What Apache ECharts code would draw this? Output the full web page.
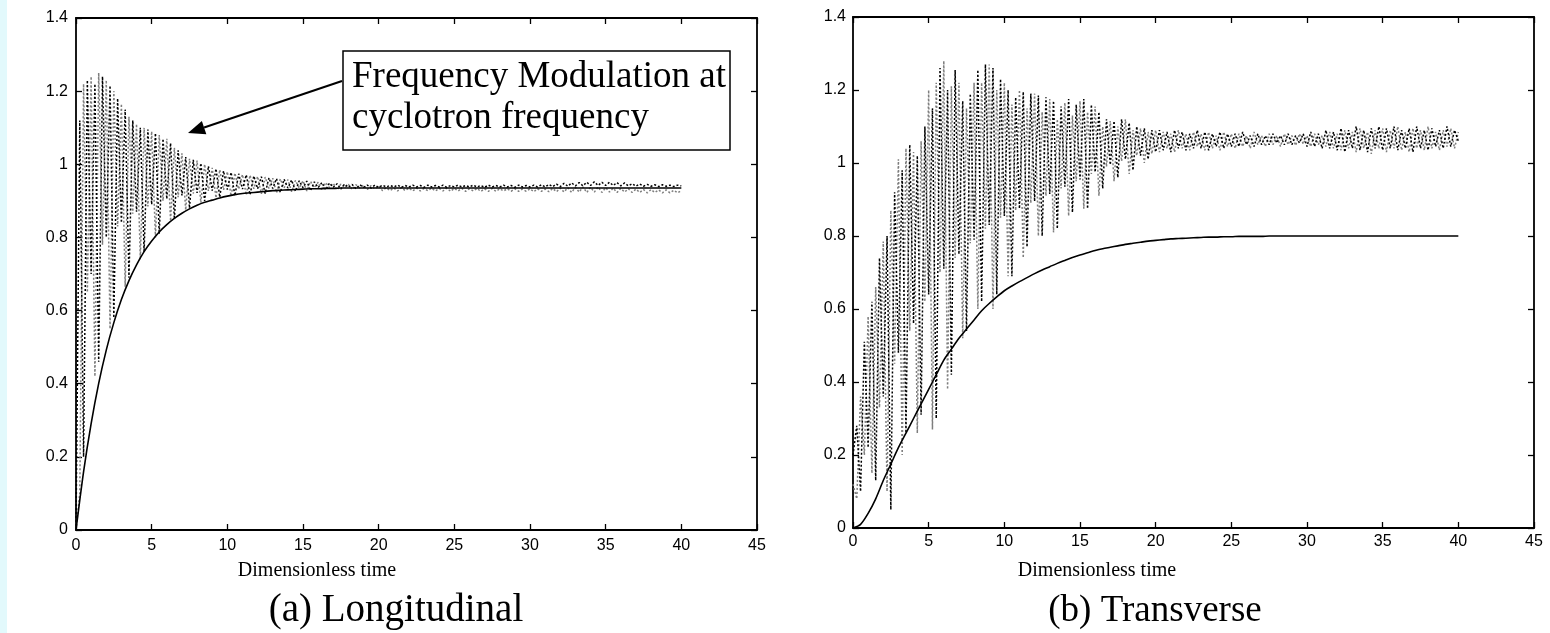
<!DOCTYPE html>
<html>
<head>
<meta charset="utf-8">
<script src="https://cdn.jsdelivr.net/npm/echarts/dist/echarts.min.js"></script>
<style>
html,body{margin:0;padding:0;background:#fff;}
#c{position:absolute;left:0;top:0;width:1550px;height:633px;}
#strip{position:absolute;left:0;top:0;width:7px;height:633px;background:#e2f9fc;}
</style>
</head>
<body>
<div id="c"></div>
<div id="strip"></div>
<script>
// ---- data ----
// sample instants (dimensionless time) of the oscillating runs, 0 .. 40
const TIME = [0,0.25,0.5,0.75,1,1.25,1.5,1.75,2,2.25,2.5,2.75,3,3.25,3.5,3.75,4,4.25,4.5,4.75,5,5.25,5.5,5.75,6,6.25,6.5,6.75,7,7.25,7.5,7.75,8,8.25,8.5,8.75,9,9.25,9.5,9.75,10,
  10.25,10.5,10.75,11,11.25,11.5,11.75,12,12.25,12.5,12.75,13,13.25,13.5,13.75,14,14.25,14.5,14.75,15,15.25,15.5,15.75,16,16.25,16.5,16.75,17,17.25,17.5,17.75,18,18.25,18.5,18.75,19,19.25,19.5,19.75,20,
  20.25,20.5,20.75,21,21.25,21.5,21.75,22,22.25,22.5,22.75,23,23.25,23.5,23.75,24,24.25,24.5,24.75,25,
  25.25,25.5,25.75,26,26.25,26.5,26.75,27,27.25,27.5,27.75,28,28.25,28.5,28.75,29,29.25,29.5,29.75,30,
  30.25,30.5,30.75,31,31.25,31.5,31.75,32,32.25,32.5,32.75,33,33.25,33.5,33.75,34,34.25,34.5,34.75,35,
  35.25,35.5,35.75,36,36.25,36.5,36.75,37,37.25,37.5,37.75,38,38.25,38.5,38.75,39,39.25,39.5,39.75,40];

// sample instants of the smooth (solid) curves
const CURVE_TIME = [0,0.5,1,1.5,2,2.5,3,3.5,4,4.5,5,5.5,6,6.5,7,7.5,8,8.5,9,9.5,10,10.5,11,11.5,12,12.5,13,13.5,14,14.5,15,15.5,16,16.5,17,17.5,18,18.5,19,19.5,20,
  20.5,21,21.5,22,22.5,23,23.5,24,24.5,25,25.5,26,26.5,27,27.5,28,28.5,29,29.5,30,30.5,31,31.5,32,32.5,33,33.5,34,34.5,35,35.5,36,36.5,37,37.5,38,38.5,39,39.5,40];

const X_TICKS = [0,5,10,15,20,25,30,35,40,45];
const Y_TICKS = [0,0.2,0.4,0.6,0.8,1,1.2,1.4];

// (a) Longitudinal
const LONG_SOLID = [0,0.159,0.291,0.401,0.492,0.567,0.630,0.682,0.725,0.761,0.790,0.815,0.835,0.852,0.866,0.878,0.888,0.896,0.902,0.908,0.913,0.917,0.920,0.922,0.924,0.926,0.928,0.929,0.930,0.931,0.932,0.933,0.933,0.934,0.934,0.935,0.935,0.935,0.935,0.935,0.935,
  0.935,0.935,0.935,0.935,0.935,0.935,0.935,0.935,0.935,0.935,0.935,0.935,0.935,0.935,0.935,0.935,0.935,0.935,0.935,0.935,0.935,0.935,0.935,0.935,0.935,0.935,0.935,0.935,0.935,0.935,0.935,0.935,0.935,0.935,0.935,0.935,0.935,0.935,0.935,0.935];
const LONG_BLACK = [0,1.12,0.20,1.23,0.70,1.22,0.46,1.24,0.80,1.215,
  0.58,1.18,0.84,1.15,0.69,1.12,0.87,1.10,0.76,1.095,
  0.89,1.085,0.81,1.07,0.905,1.058,0.85,1.038,0.915,1.02,
  0.88,1.012,0.922,1.003,0.90,0.995,0.928,0.988,0.91,0.982,
  0.931,
  0.978,0.914,0.974,0.932,0.971,0.917,0.968,0.933,0.966,0.92,
  0.963,0.934,0.961,0.923,0.959,0.935,0.957,0.926,0.955,0.936,
  0.954,0.928,0.952,0.936,0.95,0.93,0.949,0.937,0.947,0.932,
  0.946,0.937,0.945,0.933,0.944,0.937,0.943,0.935,0.943,0.937,
  0.943,0.938,0.942,0.938,0.943,0.937,0.942,0.938,0.943,0.938,0.942,0.937,0.943,0.938,0.942,0.938,0.943,0.937,0.942,0.938,
  0.943,0.938,0.942,0.938,0.943,0.938,0.942,0.937,0.943,0.938,0.942,0.938,0.943,0.938,0.942,0.937,0.943,0.938,0.942,0.938,
  0.943,0.938,0.944,0.938,0.945,0.939,0.946,0.939,0.948,0.94,0.949,0.941,0.95,0.941,0.951,0.942,0.952,0.942,0.951,0.942,
  0.951,0.942,0.95,0.941,0.949,0.941,0.947,0.94,0.946,0.94,0.945,0.94,0.944,0.939,0.944,0.94,0.943,0.939,0.943,0.941];
const LONG_GRAY = [0,0.10,1.22,0.65,1.24,0.42,1.25,0.78,1.23,0.55,
  1.20,0.83,1.165,0.665,1.13,0.865,1.11,0.74,1.10,0.885,
  1.09,0.80,1.08,0.90,1.07,0.845,1.045,0.91,1.03,0.875,
  1.015,0.92,1.01,0.895,1.0,0.927,0.99,0.908,0.985,0.93,
  0.98,
  0.913,0.976,0.932,0.972,0.916,0.970,0.933,0.967,0.919,0.965,
  0.934,0.962,0.922,0.96,0.935,0.958,0.925,0.956,0.935,0.955,
  0.927,0.953,0.936,0.951,0.929,0.95,0.936,0.948,0.93,0.946,
  0.936,0.945,0.931,0.944,0.935,0.943,0.931,0.942,0.933,0.941,
  0.928,0.936,0.928,0.935,0.927,0.936,0.928,0.935,0.927,0.935,0.927,0.934,0.928,0.935,0.927,0.934,0.927,0.935,0.926,0.934,
  0.927,0.934,0.926,0.933,0.927,0.934,0.926,0.933,0.926,0.934,0.926,0.933,0.927,0.933,0.926,0.933,0.926,0.932,0.926,0.933,
  0.925,0.933,0.926,0.932,0.925,0.934,0.925,0.935,0.924,0.936,0.923,0.937,0.924,0.938,0.923,0.937,0.924,0.938,0.923,0.936,
  0.924,0.935,0.923,0.934,0.924,0.933,0.923,0.932,0.923,0.931,0.922,0.931,0.923,0.93,0.922,0.93,0.922,0.929,0.922,0.928];

// (b) Transverse
const TRANS_SOLID = [0,0.01,0.04,0.08,0.13,0.175,0.22,0.26,0.30,0.34,0.38,0.42,0.46,0.49,0.52,0.545,0.57,0.595,0.615,0.633,0.65,0.663,0.675,0.686,0.697,0.707,0.716,0.725,0.733,0.741,0.748,0.754,0.76,0.765,0.769,0.773,0.777,0.78,0.783,0.786,0.788,
  0.79,0.792,0.793,0.794,0.795,0.796,0.797,0.797,0.798,0.798,0.799,0.799,0.799,0.799,0.8,0.8,0.8,0.8,0.8,0.8,0.8,0.8,0.8,0.8,0.8,0.8,0.8,0.8,0.8,0.8,0.8,0.8,0.8,0.8,0.8,0.8,0.8,0.8,0.8,0.8];
const TRANS_BLACK = [0.20,0.28,0.10,0.51,0.22,0.62,0.13,0.74,0.36,0.80,
  0.05,0.92,0.48,0.98,0.26,1.05,0.56,1.02,0.31,1.10,
  0.64,1.15,0.30,1.26,0.71,1.20,0.42,1.255,0.75,1.17,
  0.54,1.19,0.79,1.255,0.62,1.27,0.83,1.26,0.64,1.23,
  0.855,
  1.20,0.69,1.18,0.875,1.195,0.77,1.19,0.895,1.185,0.80,
  1.18,0.915,1.17,0.82,1.155,0.935,1.175,0.865,1.16,0.955,
  1.175,0.875,1.16,0.975,1.14,0.93,1.12,0.995,1.115,0.96,
  1.12,1.01,1.11,0.98,1.10,1.02,1.095,1.01,1.09,1.03,
  1.09,1.035,1.085,1.03,1.09,1.04,1.085,1.035,1.08,1.04,1.09,1.04,1.085,1.035,1.08,1.045,1.085,1.04,1.08,1.045,
  1.08,1.045,1.085,1.05,1.075,1.045,1.08,1.05,1.075,1.05,1.08,1.055,1.075,1.05,1.08,1.05,1.075,1.055,1.08,1.045,
  1.085,1.045,1.08,1.04,1.09,1.04,1.085,1.035,1.095,1.03,1.09,1.04,1.10,1.035,1.09,1.03,1.095,1.04,1.10,1.035,
  1.095,1.04,1.10,1.035,1.09,1.04,1.095,1.03,1.10,1.04,1.09,1.035,1.095,1.045,1.09,1.04,1.10,1.045,1.09,1.06];
const TRANS_GRAY = [0.12,0.08,0.36,0.20,0.58,0.15,0.66,0.33,0.785,0.10,
  0.87,0.45,1.01,0.20,1.04,0.54,1.03,0.26,1.06,0.62,
  1.20,0.27,1.22,0.70,1.28,0.38,1.21,0.74,1.22,0.52,
  1.15,0.78,1.22,0.60,1.22,0.82,1.27,0.60,1.20,0.85,
  1.22,
  0.69,1.16,0.87,1.20,0.74,1.15,0.89,1.19,0.80,1.14,
  0.91,1.175,0.81,1.12,0.93,1.165,0.855,1.13,0.95,1.17,
  0.875,1.14,0.97,1.155,0.91,1.10,0.99,1.115,0.95,1.10,
  1.005,1.12,0.97,1.09,1.02,1.095,1.0,1.085,1.025,1.09,
  1.03,1.085,1.04,1.08,1.03,1.09,1.04,1.08,1.035,1.085,1.045,1.08,1.035,1.085,1.04,1.075,1.035,1.085,1.045,1.08,
  1.04,1.08,1.045,1.075,1.04,1.085,1.05,1.075,1.045,1.08,1.05,1.075,1.045,1.08,1.05,1.075,1.048,1.08,1.052,1.075,
  1.045,1.08,1.05,1.075,1.045,1.085,1.04,1.08,1.035,1.09,1.04,1.085,1.03,1.095,1.04,1.085,1.025,1.09,1.04,1.095,
  1.03,1.09,1.04,1.10,1.035,1.085,1.03,1.095,1.04,1.09,1.035,1.10,1.04,1.085,1.035,1.09,1.045,1.095,1.04,1.085];

// ---- chart ----
const pairs = (ts, arr) => ts.map((t, i) => [t, arr[i]]);
const chart = echarts.init(document.getElementById('c'), null, {renderer: 'canvas'});

const GRIDS = [
  {left: 76, top: 18, width: 681, height: 512},
  {left: 853, top: 17, width: 681, height: 511}
];

const AX_COLOR = '#000';
const TICK_FONT = {fontSize: 16, color: '#000', fontFamily: 'Liberation Sans, Arial, sans-serif'};

function xAx(g, pos, labels, margin) {
  return {
    type: 'value', gridIndex: g, position: pos, min: X_TICKS[0], max: X_TICKS[X_TICKS.length - 1], interval: X_TICKS[1] - X_TICKS[0],
    axisLine: {show: true, onZero: false, lineStyle: {color: AX_COLOR, width: 1.8}},
    axisTick: {show: true, inside: true, length: 6, lineStyle: {color: AX_COLOR, width: 1.3}},
    axisLabel: Object.assign({show: labels, margin: margin || 8}, TICK_FONT),
    splitLine: {show: false}
  };
}
function yAx(g, pos, labels, margin) {
  return {
    type: 'value', gridIndex: g, position: pos, min: Y_TICKS[0], max: Y_TICKS[Y_TICKS.length - 1], interval: 0.2,
    axisLine: {show: true, onZero: false, lineStyle: {color: AX_COLOR, width: 1.8}},
    axisTick: {show: true, inside: true, length: 6, lineStyle: {color: AX_COLOR, width: 1.3}},
    axisLabel: Object.assign({show: labels, margin: margin || 7, formatter: v => String(Math.round(v * 10) / 10)}, TICK_FONT),
    splitLine: {show: false}
  };
}

function osc(name, data, xi, yi, color, w, z) {
  return {name, type: 'line', xAxisIndex: xi, yAxisIndex: yi, data: pairs(TIME, data), showSymbol: false, symbol: 'none',
    lineStyle: {color: color, width: w, type: [2, 2]}, z: z, animation: false, silent: true};
}
function solid(name, data, xi, yi) {
  return {name, type: 'line', xAxisIndex: xi, yAxisIndex: yi, data: pairs(CURVE_TIME, data), showSymbol: false, symbol: 'none',
    smooth: 0.3, lineStyle: {color: '#000', width: 1.6, type: 'solid'}, z: 5, animation: false, silent: true};
}

const serif = 'Liberation Serif, Times New Roman, serif';
const txt = (x, y, s, size, align) => ({type: 'text', x: x, y: y, z: 100,
  style: {text: s, fill: '#000', font: size + 'px ' + serif, textAlign: align || 'center', textVerticalAlign: 'middle'}});

// annotation arrow geometry (pixels)
const ARROW_START = [342, 81], ARROW_TIP = [188, 133];
const dx = ARROW_TIP[0] - ARROW_START[0], dy = ARROW_TIP[1] - ARROW_START[1];
const L = Math.hypot(dx, dy), ux = dx / L, uy = dy / L;
const HEAD_LEN = 17, HEAD_HW = 7;
const bx = ARROW_TIP[0] - ux * HEAD_LEN, by = ARROW_TIP[1] - uy * HEAD_LEN;

chart.setOption({
  animation: false,
  backgroundColor: '#fff',
  grid: GRIDS,
  xAxis: [xAx(0, 'bottom', true, 8), xAx(0, 'top', false), xAx(1, 'bottom', true, 6), xAx(1, 'top', false)],
  yAxis: [yAx(0, 'left', true, 8), yAx(0, 'right', false), yAx(1, 'left', true, 7), yAx(1, 'right', false)],
  series: [
    osc('long-gray', LONG_GRAY, 0, 0, '#7e7e7e', 1.5, 2),
    osc('long-black', LONG_BLACK, 0, 0, '#000', 1.5, 3),
    solid('long-solid', LONG_SOLID, 0, 0),
    osc('trans-gray', TRANS_GRAY, 2, 2, '#7e7e7e', 1.5, 2),
    osc('trans-black', TRANS_BLACK, 2, 2, '#000', 1.5, 3),
    solid('trans-solid', TRANS_SOLID, 2, 2)
  ],
  graphic: [
    {type: 'rect', shape: {x: 343, y: 51, width: 387, height: 99}, style: {fill: '#fff', stroke: '#000', lineWidth: 1.5}, z: 90},
    txt(352, 77, 'Frequency Modulation at', 37, 'left'),
    txt(352, 118, 'cyclotron frequency', 37, 'left'),
    {type: 'line', shape: {x1: ARROW_START[0], y1: ARROW_START[1], x2: bx, y2: by}, style: {stroke: '#000', lineWidth: 2}, z: 95},
    {type: 'polygon', shape: {points: [ARROW_TIP, [bx - uy * HEAD_HW, by + ux * HEAD_HW], [bx + uy * HEAD_HW, by - ux * HEAD_HW]]}, style: {fill: '#000'}, z: 95},
    txt(317, 571, 'Dimensionless time', 20),
    txt(396, 611, '(a) Longitudinal', 39),
    txt(1097, 571, 'Dimensionless time', 20),
    txt(1155, 611, '(b) Transverse', 37)
  ]
});
</script>
</body>
</html>
